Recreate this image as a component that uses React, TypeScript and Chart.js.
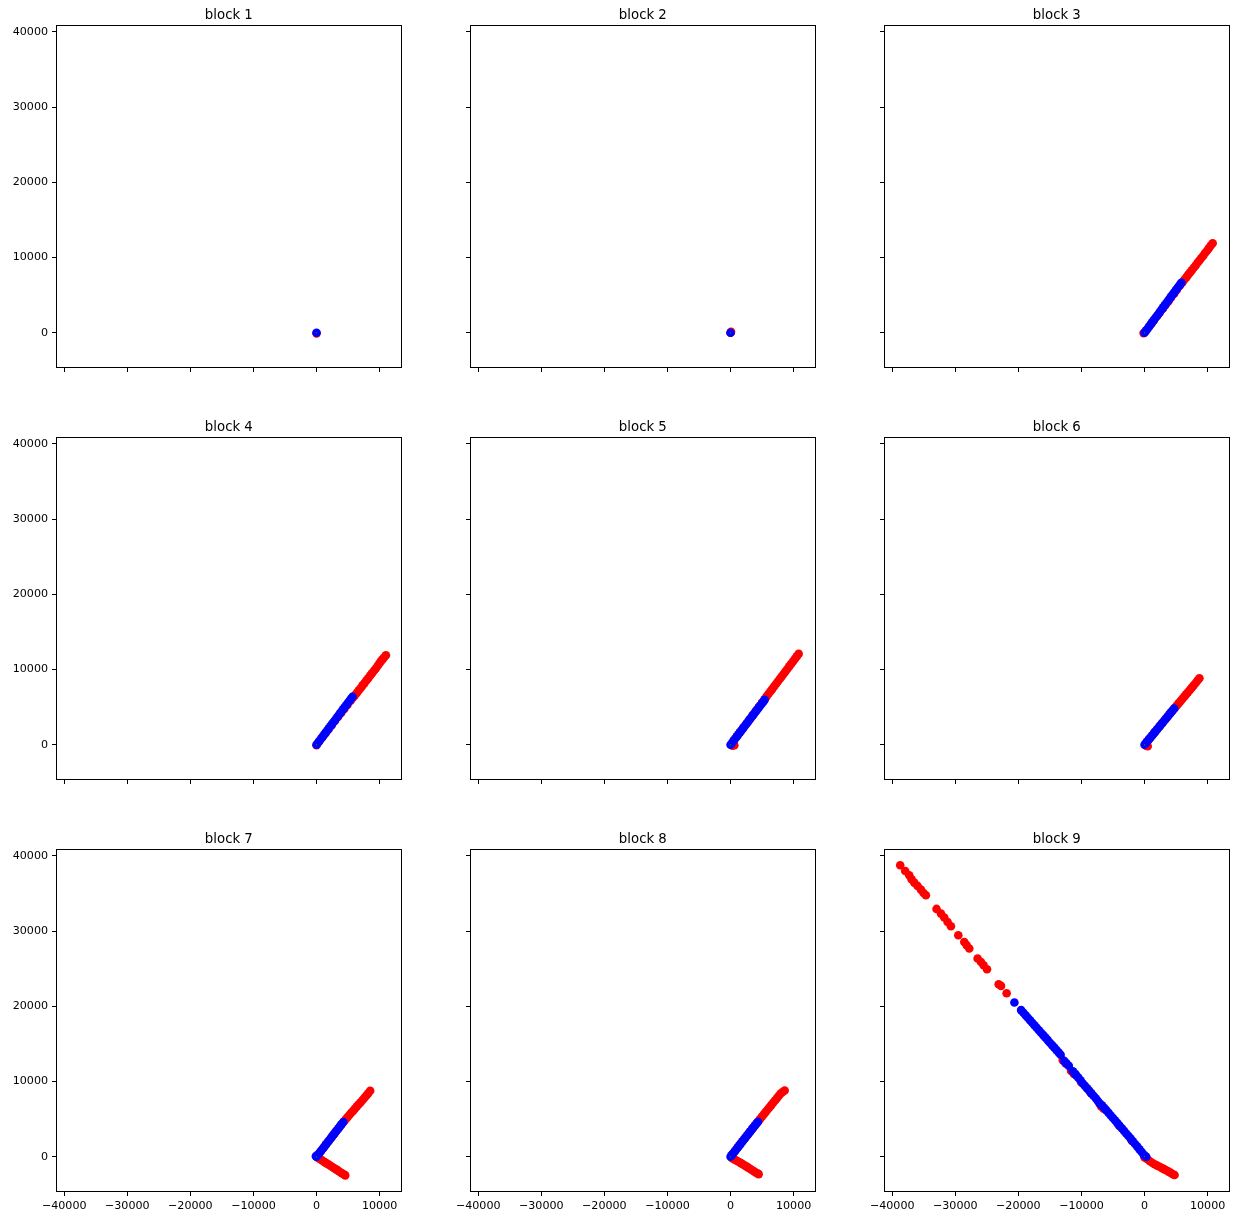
import React, { useEffect, useRef } from "react";
import { Chart, registerables } from "chart.js";

Chart.register(...registerables);

// ---------------- data ----------------
const blockTitles = ["block 1", "block 2", "block 3", "block 4", "block 5", "block 6", "block 7", "block 8", "block 9"];

const xTickValues = [-40000, -30000, -20000, -10000, 0, 10000];
const yTickValues = [0, 10000, 20000, 30000, 40000];

const originGreen: number[][] = [[0, 0]];

const block1Red: number[][] = [[0, -80]];
const block1Blue: number[][] = [[0, 0]];

const block2Red: number[][] = [[80, 120], [0, 0]];
const block2Blue: number[][] = [[0, 0]];

const block3Red: number[][] = [
  [-150, -50], [300, 330], [700, 790], [1100, 1230], [1500, 1680], [2000, 2220], [2400, 2680], [2900, 3200],
  [3300, 3650], [3800, 4200], [4200, 4700], [4700, 5200], [5100, 5700], [5600, 6250], [6000, 6700], [6300, 7050],
  [6650, 7400], [6900, 7700], [7200, 8000], [7500, 8300], [7800, 8650], [8100, 8950], [8400, 9300], [8700, 9600],
  [9000, 9950], [9300, 10250], [9600, 10600], [9900, 10900], [10200, 11250], [10500, 11600], [10800, 11900],
];
const block3Blue: number[][] = [
  [0, 0], [200, 250], [450, 500], [700, 800], [950, 1080], [1200, 1380], [1450, 1650], [1700, 1950], [1950, 2230],
  [2200, 2500], [2450, 2800], [2700, 3080], [2950, 3370], [3200, 3650], [3450, 3930], [3700, 4220], [3950, 4500],
  [4200, 4800], [4450, 5080], [4700, 5360], [4950, 5650], [5200, 5930], [5450, 6220], [5700, 6500], [5850, 6650],
];

const block4Red: number[][] = [
  [0, -60], [400, 420], [900, 960], [1400, 1500], [1900, 2050], [2400, 2600], [2900, 3150], [3400, 3680],
  [3900, 4230], [4400, 4760], [4900, 5300], [5400, 5850], [5800, 6300], [6100, 6600], [6400, 6900], [6700, 7250],
  [7000, 7550], [7300, 7900], [7600, 8200], [7900, 8550], [8200, 8850], [8500, 9200], [8800, 9500], [9100, 9850],
  [9400, 10150], [9700, 10500], [9950, 10800], [10200, 11100], [10450, 11350], [10700, 11600], [11000, 11900],
];
const block4Blue: number[][] = [
  [0, 0], [200, 230], [450, 500], [700, 790], [950, 1060], [1200, 1340], [1450, 1620], [1700, 1900], [1950, 2180],
  [2200, 2460], [2450, 2740], [2700, 3020], [2950, 3300], [3200, 3580], [3450, 3860], [3700, 4140], [3950, 4420],
  [4200, 4700], [4450, 4980], [4700, 5260], [4950, 5540], [5200, 5820], [5450, 6100], [5700, 6380],
];

const block5Red: number[][] = [
  [300, -120], [600, -60], [500, 560], [1000, 1120], [1500, 1680], [2000, 2240], [2500, 2800], [3000, 3360],
  [3500, 3920], [4000, 4480], [4500, 5040], [5000, 5600], [5400, 6050], [5700, 6400], [6000, 6750], [6300, 7080],
  [6600, 7400], [6900, 7750], [7200, 8080], [7500, 8400], [7800, 8750], [8100, 9080], [8400, 9400], [8700, 9750],
  [9000, 10080], [9300, 10420], [9600, 10750], [9900, 11080], [10200, 11420], [10500, 11750], [10800, 12080],
];
const block5Blue: number[][] = [
  [0, 0], [250, 270], [500, 550], [750, 830], [1000, 1100], [1250, 1380], [1500, 1660], [1750, 1930], [2000, 2210],
  [2250, 2490], [2500, 2760], [2750, 3040], [3000, 3320], [3250, 3590], [3500, 3870], [3750, 4140], [4000, 4420],
  [4250, 4700], [4500, 4970], [4750, 5250], [5000, 5520], [5250, 5800], [5400, 5980],
];

const block6Red: number[][] = [
  [500, -200], [250, -120], [400, 410], [800, 820], [1200, 1230], [1600, 1640], [2000, 2050], [2400, 2460],
  [2800, 2870], [3200, 3280], [3600, 3690], [4000, 4100], [4400, 4500], [4800, 4900], [5100, 5200], [5400, 5500],
  [5700, 5800], [6000, 6100], [6300, 6400], [6600, 6700], [6900, 7000], [7200, 7300], [7500, 7600], [7800, 7900],
  [8100, 8220], [8400, 8540], [8700, 8850],
];
const block6Blue: number[][] = [
  [0, 0], [200, 210], [450, 460], [700, 720], [950, 970], [1200, 1230], [1450, 1480], [1700, 1740], [1950, 2000],
  [2200, 2250], [2450, 2510], [2700, 2770], [2950, 3020], [3200, 3280], [3450, 3530], [3700, 3790], [3950, 4050],
  [4200, 4300], [4450, 4560], [4700, 4820],
];

const block7Red: number[][] = [
  [300, 320], [700, 760], [1100, 1200], [1500, 1640], [1900, 2070], [2300, 2500], [2700, 2950], [3100, 3380],
  [3500, 3800], [3900, 4250], [4300, 4650], [4600, 4950], [4900, 5250], [5200, 5550], [5500, 5850], [5800, 6100],
  [6100, 6400], [6400, 6700], [6700, 6980], [7000, 7250], [7300, 7550], [7600, 7850], [7900, 8150], [8200, 8450],
  [8500, 8770],
  [150, -80], [400, -220], [700, -380], [1000, -560], [1300, -720], [1600, -880], [1900, -1040], [2200, -1200],
  [2500, -1360], [2800, -1520], [3100, -1680], [3400, -1850], [3700, -2020], [4000, -2180], [4300, -2330], [4550, -2480],
];
const block7Blue: number[][] = [
  [0, 0], [-100, 80], [200, 220], [450, 490], [700, 760], [950, 1030], [1200, 1300], [1450, 1580], [1700, 1850],
  [1950, 2120], [2200, 2400], [2450, 2670], [2700, 2940], [2950, 3210], [3200, 3480], [3450, 3760], [3700, 4030],
  [3950, 4300], [4250, 4630],
];

const block8Red: number[][] = [
  [300, 330], [700, 760], [1100, 1190], [1500, 1620], [1900, 2050], [2300, 2480], [2700, 2910], [3100, 3340],
  [3500, 3770], [3900, 4200], [4300, 4620], [4650, 4980], [4950, 5300], [5250, 5620], [5550, 5930], [5850, 6240],
  [6150, 6550], [6450, 6860], [6750, 7170], [7050, 7480], [7350, 7790], [7650, 8100], [7950, 8400], [8250, 8600],
  [8580, 8800],
  [200, -150], [450, -300], [750, -420], [1050, -560], [1350, -700], [1650, -850], [1950, -1000], [2250, -1160],
  [2550, -1320], [2850, -1480], [3150, -1640], [3450, -1800], [3750, -1960], [4050, -2120], [4300, -2240], [4460, -2310],
];
const block8Blue: number[][] = [
  [0, 0], [150, 180], [400, 430], [650, 700], [900, 970], [1150, 1240], [1400, 1510], [1650, 1780], [1900, 2050],
  [2150, 2320], [2400, 2590], [2650, 2860], [2900, 3120], [3150, 3390], [3400, 3650], [3650, 3920], [3900, 4180],
  [4150, 4450], [4350, 4650],
];

const block9Red: number[][] = [
  [-38730, 38760], [-37940, 38010], [-37300, 37440], [-36930, 36900], [-36510, 36460], [-35980, 36020],
  [-35450, 35530], [-35030, 35080], [-34660, 34780], [-32970, 32960], [-32270, 32340], [-31750, 31810],
  [-31220, 31230], [-30690, 30660], [-29520, 29460], [-28570, 28570], [-28200, 28130], [-27780, 27690],
  [-26460, 26370], [-25930, 25910], [-25510, 25470], [-24970, 24940], [-23120, 22950], [-22750, 22720],
  [-21860, 21750],
  [-12970, 12850], [-12500, 12400], [-11640, 11400], [-11200, 11000], [-10050, 9900], [-8500, 8450],
  [-6880, 6700], [-6500, 6400], [-4000, 4100], [-2000, 2100],
  [0, -100], [400, -300], [790, -560], [1200, -800], [1600, -1000], [2000, -1180], [2380, -1330], [2800, -1520],
  [3100, -1650], [3440, -1800], [3800, -1980], [4150, -2150], [4500, -2320], [4760, -2430],
];
const block9Blue: number[][] = [
  [-20630, 20520], [-19570, 19500], [-19200, 19150], [-18850, 18820], [-18500, 18490], [-18150, 18160],
  [-17800, 17820], [-17450, 17490], [-17100, 17160], [-16750, 16830], [-16400, 16500], [-16050, 16170],
  [-15700, 15840], [-15350, 15510], [-15000, 15170], [-14650, 14840], [-14300, 14510], [-13950, 14180],
  [-13600, 13850], [-13300, 13560], [-12700, 12720], [-12400, 12420], [-12000, 12080], [-11350, 11380],
  [-11000, 11020], [-10850, 10860], [-10500, 10520],
  [-10150, 10180], [-9790, 9750], [-9450, 9420], [-9100, 9090], [-8750, 8760], [-8400, 8420], [-8050, 8080],
  [-7700, 7740], [-7400, 7420], [-7140, 7100], [-6750, 6830], [-6400, 6510], [-6080, 6200], [-5700, 5830],
  [-5350, 5490], [-5000, 5150],
  [-4650, 4810], [-4300, 4470], [-3950, 4120], [-3600, 3780], [-3250, 3440], [-2900, 3100], [-2550, 2760],
  [-2200, 2410], [-1850, 2060], [-1500, 1700], [-1150, 1340], [-800, 980], [-450, 620], [-150, 300], [100, 100],
  [270, 0],
];

const blockReds = [block1Red, block2Red, block3Red, block4Red, block5Red, block6Red, block7Red, block8Red, block9Red];
const blockBlues = [block1Blue, block2Blue, block3Blue, block4Blue, block5Blue, block6Blue, block7Blue, block8Blue, block9Blue];

// ---------------- layout ----------------
const X_MIN = -41300;
const X_MAX = 13500;
const Y_MIN = -4690;
const Y_MAX = 40930;

const COL_LEFTS = [56, 470, 884];
const ROW_TOPS = [25, 437, 849];
const BOX_W = 346;
const BOX_H = 343;
const PAD_L = 56;
const PAD_T = 25;
const PAD_R = 4;
const PAD_B = 24;

const FONT = "'DejaVu Sans', sans-serif";

const fmt = (v: number) => (v < 0 ? "\u2212" + String(Math.abs(v)) : String(v));

const framePlugin = {
  id: "frameAndTitle",
  afterDraw(chart: any) {
    const { ctx, chartArea } = chart;
    const { left, right, top, bottom } = chartArea;
    ctx.save();
    ctx.strokeStyle = "#000";
    ctx.lineWidth = 1;
    const x0 = Math.round(left) + 0.5;
    const y0 = Math.round(top) + 0.5;
    const x1 = Math.round(right) - 0.5;
    const y1 = Math.round(bottom) - 0.5;
    ctx.strokeRect(x0, y0, x1 - x0, y1 - y0);
    const title = chart.options.plugins.frameAndTitle?.title || "";
    ctx.fillStyle = "#000";
    ctx.font = `13.3px ${FONT}`;
    ctx.textAlign = "center";
    ctx.textBaseline = "alphabetic";
    ctx.fillText(title, (left + right) / 2, top - 6.5);
    ctx.restore();
  },
};

type PanelProps = { index: number };

function Panel({ index }: PanelProps) {
  const ref = useRef<HTMLCanvasElement | null>(null);
  const col = index % 3;
  const row = Math.floor(index / 3);
  const showX = row === 2;
  const showY = col === 0;
  const width = PAD_L + BOX_W + PAD_R;
  const height = PAD_T + BOX_H + PAD_B;

  useEffect(() => {
    if (!ref.current) return;
    const toPts = (arr: number[][]) => arr.map((p) => ({ x: p[0], y: p[1] }));
    const chart = new Chart(ref.current, {
      type: "scatter",
      data: {
        datasets: [
          {
            data: toPts(blockReds[index]),
            backgroundColor: "#ff0000",
            borderWidth: 0,
            pointRadius: 4.3,
            order: 2,
          },
          {
            data: toPts(blockBlues[index]),
            backgroundColor: "#0000ff",
            borderWidth: 0,
            pointRadius: 4.3,
            order: 1,
          },
          {
            data: toPts(originGreen),
            backgroundColor: "#008000",
            borderWidth: 0,
            pointRadius: 0.8,
            order: 0,
          },
        ],
      },
      options: {
        animation: false,
        responsive: false,
        devicePixelRatio: 1,
        events: [],
        layout: { padding: { left: 0, top: PAD_T, right: PAD_R, bottom: 0 } },
        plugins: {
          legend: { display: false },
          tooltip: { enabled: false },
          title: { display: false },
          // @ts-ignore
          frameAndTitle: { title: blockTitles[index] },
        },
        scales: {
          x: {
            type: "linear",
            min: X_MIN,
            max: X_MAX,
            afterBuildTicks: (s: any) => {
              s.ticks = xTickValues.map((v) => ({ value: v }));
            },
            afterFit: (s: any) => {
              s.height = PAD_B;
            },
            ticks: {
              display: showX,
              autoSkip: false,
              maxRotation: 0,
              padding: 3,
              color: "#000",
              font: { family: FONT, size: 11.1 },
              callback: (v: any) => fmt(Number(v)),
            },
            grid: {
              display: true,
              drawOnChartArea: false,
              drawTicks: true,
              tickLength: 4,
              tickColor: "#000",
              tickWidth: 1,
            },
            border: { display: false },
          },
          y: {
            type: "linear",
            min: Y_MIN,
            max: Y_MAX,
            afterBuildTicks: (s: any) => {
              s.ticks = yTickValues.map((v) => ({ value: v }));
            },
            afterFit: (s: any) => {
              s.width = PAD_L;
            },
            ticks: {
              display: showY,
              autoSkip: false,
              padding: 4,
              color: "#000",
              font: { family: FONT, size: 11.1 },
              callback: (v: any) => fmt(Number(v)),
            },
            grid: {
              display: true,
              drawOnChartArea: false,
              drawTicks: true,
              tickLength: 4,
              tickColor: "#000",
              tickWidth: 1,
            },
            border: { display: false },
          },
        },
      },
      plugins: [framePlugin],
    } as any);
    return () => chart.destroy();
  }, [index]);

  return (
    <canvas
      ref={ref}
      width={width}
      height={height}
      style={{
        position: "absolute",
        left: COL_LEFTS[col] - PAD_L,
        top: ROW_TOPS[row] - PAD_T,
        width,
        height,
      }}
    />
  );
}

export default function App() {
  return (
    <div
      style={{
        position: "absolute",
        left: 0,
        top: 0,
        width: 1235,
        height: 1217,
        background: "#fff",
        overflow: "hidden",
      }}
    >
      {blockTitles.map((_, i) => (
        <Panel key={i} index={i} />
      ))}
    </div>
  );
}
